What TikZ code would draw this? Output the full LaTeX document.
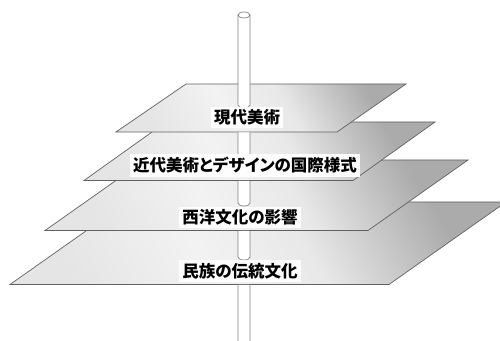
\documentclass[tikz,border=0pt]{standalone}
\usepackage{fontspec}
\newfontfamily\jp{Noto Sans CJK JP}[RawFeature=+palt]
\pgfdeclarehorizontalshading{planeshade}{100bp}{color(0bp)=(black!10); color(25bp)=(black!10); color(42bp)=(black!5); color(56bp)=(black!9); color(75bp)=(black!33); color(100bp)=(black!33)}
\begin{document}
\begin{tikzpicture}[x=1pt,y=1pt,
  plane/.style={draw=black!62, line width=0.7pt, shading=planeshade, shading angle=30},
  polefill/.style={fill=white},
  poleline/.style={draw=black!50, line width=0.7pt},
  label/.style={fill=white, fill opacity=0.92, text opacity=1, inner xsep=3pt, inner ysep=3pt, font=\jp\bfseries\fontsize{16.5}{16.5}\selectfont}]
\useasboundingbox (0,0) rectangle (500,340);
\clip (0,0) rectangle (500,340);
% planes, bottom to top
\shade[plane] (10,55.5) coordinate (p4a) -- (389,55.5) -- (506,138) -- (127,138) -- cycle;
\shade[plane] (45,109.5) coordinate (p3a) -- (368,109.5) -- (468,180) -- (145,180) -- cycle;
\shade[plane] (84,159.5) coordinate (p2a) -- (353,159.5) -- (435,218) -- (166,218) -- cycle;
\shade[plane] (116,208) coordinate (p1a) -- (337,208) -- (406,256) -- (186,256) -- cycle;
% pole segments
\foreach \t/\b in {325/235, 207.6/186, 159.1/137, 109.1/83, 55.1/-5} {
  \fill[polefill] (238,\t) -- (238,\b) arc[start angle=180, end angle=360, x radius=6pt, y radius=3pt] -- (250,\t) -- cycle;
  \draw[poleline] (238,\t) -- (238,\b) arc[start angle=180, end angle=360, x radius=6pt, y radius=3pt] -- (250,\t);
}
\draw[poleline, fill=white] (244,325) ellipse[x radius=6pt, y radius=3pt];
% labels
\node[label] (l1) at (247,222.5) {現代美術};
\node[label] (l2) at (245,174.5) {近代美術とデザインの国際様式};
\node[label] (l3) at (240,122.5) {西洋文化の影響};
\node[label] (l4) at (240,69) {民族の伝統文化};
\end{tikzpicture}
\end{document}
